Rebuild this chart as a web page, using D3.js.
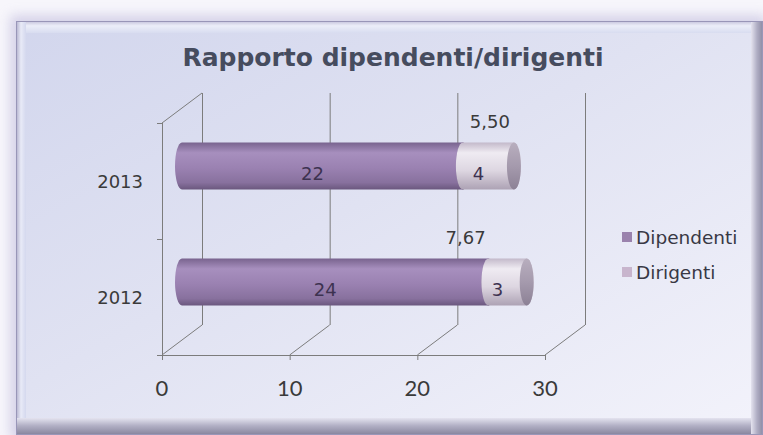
<!DOCTYPE html>
<html>
<head>
<meta charset="utf-8">
<script src="https://cdn.jsdelivr.net/npm/d3@7"></script>
<style>
  html, body { margin: 0; padding: 0; background: #f7f6fb; }
  svg { display: block; }
</style>
</head>
<body>
<div id="chart"></div>
<script>
// data
const years = ["2013", "2012"];
const dipendenti = [22, 24];
const dirigenti = [4, 3];
const ratios = ["5,50", "7,67"];
const ratioAnchor = [24.9, 23.0];   // ratio labels sit here, in axis units
const xTicks = [0, 10, 20, 30];
const seriesNames = ["Dipendenti", "Dirigenti"];

const W = 763, H = 435;
const DX = 40, DY = -30;   // depth of the 3d box

const svg = d3.select("#chart").append("svg").attr("width", W).attr("height", H);
const defs = svg.append("defs");

function grad(id, stops, vertical) {
    const g = defs.append("linearGradient").attr("id", id)
        .attr("x1", 0).attr("y1", 0).attr("x2", vertical ? 0 : 1).attr("y2", vertical ? 1 : 0);
    stops.forEach(s => g.append("stop").attr("offset", s[0]).attr("stop-color", s[1]));
}
grad("panel", [[0, "#d2d6ed"], [0.45, "#e0e2f2"], [1, "#f3f3fb"]], false);
defs.select("#panel").attr("y2", 1);
grad("bottomEdge", [[0, "#e4e3ef"], [0.45, "#b2b0c5"], [1, "#85839b"]], true);
grad("rightEdge", [[0, "#e4e3ef"], [0.5, "#b0aec4"], [1, "#8c8aa2"]], false);
grad("topEdge", [[0, "#c4c2db"], [0.4, "#eceef9"], [1, "#d8dcf0"]], true);
grad("leftEdge", [[0, "#b0aecb"], [0.5, "#e8eaf7"], [1, "#d4d8ee"]], false);
grad("dipBody", [[0, "#78638e"], [0.22, "#a78fbe"], [0.55, "#9a81b1"], [0.85, "#88719e"], [1, "#6a577e"]], true);
grad("dirBody", [[0, "#c3b9ca"], [0.22, "#efebf2"], [0.6, "#ddd6e1"], [1, "#ada2b4"]], true);
grad("dipEnd", [[0, "#8f79a4"], [1, "#6f5c84"]], true);
grad("dirEnd", [[0, "#b8aebe"], [0.5, "#a59aad"], [1, "#8c8195"]], true);

const glow = defs.append("filter").attr("id", "glow").attr("x", "-10%").attr("y", "-10%").attr("width", "120%").attr("height", "120%");
glow.append("feGaussianBlur").attr("stdDeviation", 6);

// frame
svg.append("rect").attr("x", 10).attr("y", 15).attr("width", 756).attr("height", 425)
    .attr("fill", "#cdc9e4").attr("opacity", 0.8).attr("filter", "url(#glow)");
svg.append("rect").attr("x", 16).attr("y", 21).attr("width", 747).attr("height", 414).attr("fill", "url(#panel)");
svg.append("rect").attr("x", 16).attr("y", 21).attr("width", 747).attr("height", 12).attr("fill", "url(#topEdge)");
svg.append("rect").attr("x", 16).attr("y", 21).attr("width", 10).attr("height", 414).attr("fill", "url(#leftEdge)");
svg.append("rect").attr("x", 16).attr("y", 418).attr("width", 747).attr("height", 17).attr("fill", "url(#bottomEdge)");
svg.append("rect").attr("x", 751).attr("y", 21).attr("width", 12).attr("height", 414).attr("fill", "url(#rightEdge)");
svg.append("rect").attr("x", 16.5).attr("y", 21.5).attr("width", 746).attr("height", 413)
    .attr("fill", "none").attr("stroke", "#9996b8").attr("stroke-width", 1);

// title
svg.append("text").attr("x", 393).attr("y", 66).attr("text-anchor", "middle")
    .style("font", "bold 25px 'DejaVu Sans', Verdana, sans-serif").style("fill", "#464c5e")
    .text("Rapporto dipendenti/dirigenti");

// scales (front plane)
const x = d3.scaleLinear().domain([0, 30]).range([162, 545]);
const y = d3.scaleBand().domain(years).range([123, 355]);
const bw = y.bandwidth();
const floorY = y.range()[1], topY = y.range()[0];

const grid = svg.append("g").attr("stroke", "#7c7c7c").attr("stroke-width", 1).attr("fill", "none");
// back wall gridlines
grid.selectAll(".back").data(xTicks).join("line")
    .attr("x1", d => x(d) + DX + 0.5).attr("x2", d => x(d) + DX + 0.5)
    .attr("y1", topY + DY).attr("y2", floorY + DY);
// floor diagonals
grid.selectAll(".diag").data(xTicks).join("line")
    .attr("x1", d => x(d)).attr("y1", floorY).attr("x2", d => x(d) + DX).attr("y2", floorY + DY);
// front axis + ticks
grid.append("line").attr("x1", x(0)).attr("x2", x(30)).attr("y1", floorY + 0.5).attr("y2", floorY + 0.5);
grid.selectAll(".tk").data(xTicks).join("line")
    .attr("x1", d => x(d) + 0.5).attr("x2", d => x(d) + 0.5).attr("y1", floorY).attr("y2", floorY + 5);
// side wall
grid.append("line").attr("x1", x(0) + 0.5).attr("x2", x(0) + 0.5).attr("y1", topY).attr("y2", floorY);
grid.append("line").attr("x1", x(0)).attr("y1", topY).attr("x2", x(0) + DX).attr("y2", topY + DY);
grid.selectAll(".ytk").data([topY, topY + bw, floorY]).join("line")
    .attr("x1", x(0) - 5).attr("x2", x(0)).attr("y1", d => d + 0.5).attr("y2", d => d + 0.5);

// axis labels
svg.append("g").selectAll("text").data(xTicks).join("text")
    .attr("x", d => x(d)).attr("y", 387).attr("text-anchor", "middle").attr("dominant-baseline", "central")
    .style("font", "22px Lato, 'Open Sans', sans-serif").style("fill", "#3a3a3a").text(d => d);
svg.append("g").selectAll("text").data(years).join("text")
    .attr("x", 143).attr("y", d => y(d) + bw / 2).attr("text-anchor", "end").attr("dominant-baseline", "central")
    .style("font", "18px 'DejaVu Sans', Verdana, sans-serif").style("fill", "#3a3a3a").text(d => d);

// cylinders, drawn at mid depth
const ry = bw * 0.203, rx = 7;
function cylinder(a, b, cy) {
    return `M${a},${cy - ry}L${b},${cy - ry}A${rx},${ry} 0 0 1 ${b},${cy + ry}L${a},${cy + ry}A${rx},${ry} 0 0 1 ${a},${cy - ry}Z`;
}
const segs = [];
years.forEach((c, i) => {
    segs.push({ c, s: 0, v0: 0, v1: dipendenti[i], v: dipendenti[i] });
    segs.push({ c, s: 1, v0: dipendenti[i], v1: dipendenti[i] + dirigenti[i], v: dirigenti[i] });
});
const bars = svg.append("g");
segs.forEach(d => {
    const cy = y(d.c) + bw / 2 + DY / 2;
    const a = x(d.v0) + DX / 2, b = x(d.v1) + DX / 2;
    bars.append("path").attr("d", cylinder(a, b, cy)).attr("fill", d.s ? "url(#dirBody)" : "url(#dipBody)");
    bars.append("ellipse").attr("cx", b).attr("cy", cy).attr("rx", rx).attr("ry", ry)
        .attr("fill", d.s ? "url(#dirEnd)" : "url(#dipEnd)");
});

// value labels
svg.append("g").selectAll("text").data(segs).join("text")
    .attr("x", d => x((d.v0 + d.v1) / 2) + DX / 4)
    .attr("y", d => y(d.c) + bw / 2 + DY / 4)
    .attr("text-anchor", "middle").attr("dominant-baseline", "central")
    .style("font", "18px 'DejaVu Sans', Verdana, sans-serif").style("fill", "#3d3250")
    .text(d => d.v);

// ratio labels
svg.append("g").selectAll("text").data(years).join("text")
    .attr("x", (d, i) => x(ratioAnchor[i]) + DX / 4)
    .attr("y", d => y(d) + bw / 2 + DY / 2 - ry - 21)
    .attr("text-anchor", "middle").attr("dominant-baseline", "central")
    .style("font", "18px 'DejaVu Sans', Verdana, sans-serif").style("fill", "#3a3a3a")
    .text((d, i) => ratios[i]);

// legend
const legColors = ["#9a82ad", "#c8b5cd"];
const leg = svg.append("g").selectAll("g").data(seriesNames).join("g")
    .attr("transform", (d, i) => `translate(622,${237 + i * 35})`);
leg.append("rect").attr("x", 0).attr("y", -5).attr("width", 10).attr("height", 10).attr("fill", (d, i) => legColors[i]);
leg.append("text").attr("x", 14).attr("y", 0).attr("dominant-baseline", "central")
    .style("font", "18.5px 'DejaVu Sans', Verdana, sans-serif").style("fill", "#383844").text(d => d);
</script>
</body>
</html>
